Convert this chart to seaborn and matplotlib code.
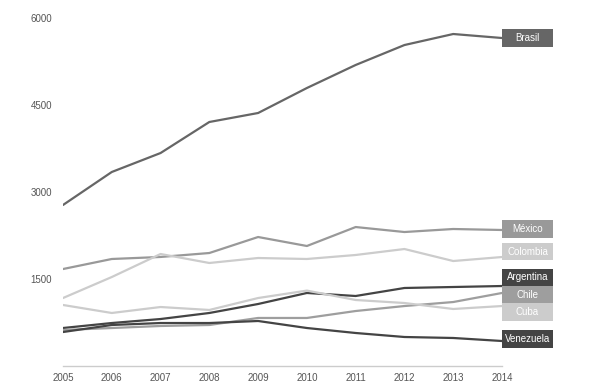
import numpy as np
import pandas as pd
import matplotlib
matplotlib.use("Agg")
import matplotlib.pyplot as plt
from matplotlib.patches import Rectangle
import seaborn as sns

# ---------------------------------------------------------------------
# Data
# ---------------------------------------------------------------------
years = [2005, 2006, 2007, 2008, 2009, 2010, 2011, 2012, 2013, 2014]

brasil = [2776, 3345, 3672, 4207, 4362, 4793, 5190, 5534, 5724, 5655]
mexico = [1672, 1845, 1880, 1948, 2224, 2069, 2396, 2310, 2362, 2345]
colombia = [1172, 1534, 1931, 1776, 1862, 1845, 1914, 2017, 1810, 1879]
argentina = [655, 741, 810, 914, 1069, 1259, 1207, 1345, 1362, 1379]
chile = [621, 655, 690, 707, 828, 828, 948, 1034, 1103, 1259]
cuba = [1052, 914, 1017, 966, 1172, 1300, 1138, 1086, 983, 1034]
venezuela = [586, 707, 741, 741, 776, 655, 569, 500, 483, 431]

countries = ["Brasil", "México", "Colombia", "Argentina", "Chile", "Cuba", "Venezuela"]
series = [brasil, mexico, colombia, argentina, chile, cuba, venezuela]
colors = ["#666666", "#999999", "#cccccc", "#444444", "#9e9e9e", "#cccccc", "#444444"]

# label box centres (data units) - nudged apart like the original
label_y = [5655, 2362, 1974, 1526, 1216, 931, 466]

y_ticks = [1500, 3000, 4500, 6000]

# ---------------------------------------------------------------------
# Plot
# ---------------------------------------------------------------------
rows = []
for name, vals in zip(countries, series):
    for yr, v in zip(years, vals):
        rows.append({"year": yr, "value": v, "country": name})
df = pd.DataFrame(rows)

sns.set_style("white")
plt.rcParams["font.family"] = ["Liberation Sans", "DejaVu Sans"]

fig = plt.figure(figsize=(5.89, 3.89), dpi=100)
ax = fig.add_axes([63 / 589, 1 - 366 / 389, 439 / 589, 348 / 389])

sns.lineplot(
    data=df, x="year", y="value", hue="country",
    hue_order=countries, palette=dict(zip(countries, colors)),
    linewidth=1.6, legend=False, ax=ax,
)

ax.set_xlim(2005, 2014)
ax.set_ylim(0, 6000)
ax.set_xticks(years)
ax.set_xticklabels([str(y) for y in years])
ax.set_yticks(y_ticks)
ax.set_yticklabels([str(t) for t in y_ticks])
ax.tick_params(axis="both", length=0, labelsize=7, labelcolor="#555555")
ax.tick_params(axis="y", pad=8)
ax.tick_params(axis="x", pad=5)
ax.set_xlabel("")
ax.set_ylabel("")

for side in ["top", "right", "left"]:
    ax.spines[side].set_visible(False)
ax.spines["bottom"].set_color("#cccccc")
ax.spines["bottom"].set_linewidth(1.0)

# end-of-line label boxes
box_w = 1.045   # in years
box_h = 310     # in value units
for name, col, ly in zip(countries, colors, label_y):
    ax.add_patch(Rectangle((years[-1], ly - box_h / 2), box_w, box_h,
                           facecolor=col, edgecolor="none", clip_on=False, zorder=5))
    ax.text(years[-1] + box_w / 2, ly, name, ha="center", va="center",
            fontsize=7, color="white", zorder=6, clip_on=False)

fig.savefig("out.png", dpi=100)
